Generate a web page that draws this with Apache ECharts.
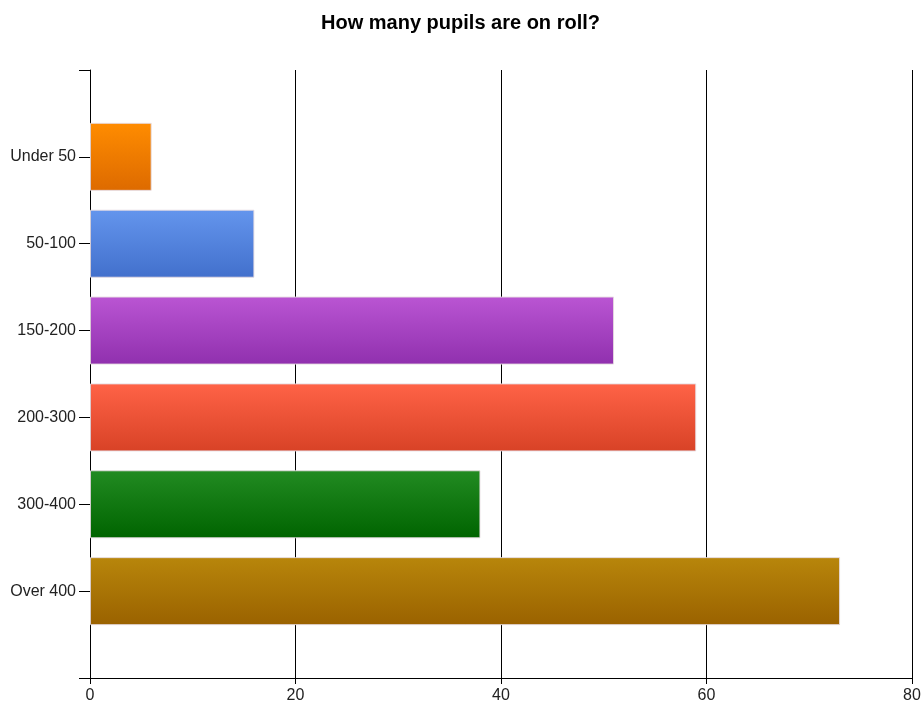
<!DOCTYPE html>
<html>
<head>
<meta charset="utf-8">
<script src="https://cdn.jsdelivr.net/npm/echarts@6/dist/echarts.min.js"></script>
<style>html,body{margin:0;padding:0;background:#fff}#c{width:921px;height:704px}</style>
</head>
<body>
<div id="c"></div>
<script>
var categories = ['', 'Under 50', '50-100', '150-200', '200-300', '300-400', 'Over 400', ''];
var values = [null, 6, 16, 51, 59, 38, 73, null];
var topColors = [null, '#FF8C00', '#6495ED', '#BA55D3', '#FF6347', '#228B22', '#B8860B', null];
var bottomColors = [null, '#DD6A00', '#4270CC', '#9030AE', '#D84226', '#006400', '#9A6200', null];
var xTicks = [0, 20, 40, 60, 80];

var chart = echarts.init(document.getElementById('c'), null, {renderer: 'canvas'});
var data = values.map(function (v, i) {
  if (v === null) return '-';
  return {
    value: v,
    itemStyle: {
      color: new echarts.graphic.LinearGradient(0, 0, 0, 1, [
        {offset: 0, color: topColors[i]},
        {offset: 1, color: bottomColors[i]}
      ]),
      borderColor: 'rgba(230,220,225,0.9)',
      borderWidth: 1
    }
  };
});
chart.setOption({
  animation: false,
  title: {
    text: 'How many pupils are on roll?',
    left: 'center',
    top: 8,
    textStyle: {fontFamily: 'Liberation Sans', fontSize: 20, fontWeight: 'bold', color: '#000'}
  },
  grid: {left: 90, right: 9, top: 70, bottom: 26, containLabel: false, outerBoundsMode: 'none'},
  xAxis: {
    type: 'value',
    min: xTicks[0],
    max: xTicks[xTicks.length - 1],
    interval: 20,
    axisLine: {show: true, lineStyle: {color: '#000', width: 1}},
    axisTick: {show: true, length: 6, lineStyle: {color: '#000'}},
    axisLabel: {color: '#222', fontFamily: 'Liberation Sans', fontSize: 16, margin: 10},
    splitLine: {show: true, lineStyle: {color: '#000', width: 1}}
  },
  yAxis: {
    type: 'category',
    data: categories,
    inverse: true,
    boundaryGap: false,
    axisLine: {show: true, lineStyle: {color: '#000', width: 1}},
    axisTick: {show: true, length: 11, lineStyle: {color: '#000'}, interval: 0},
    axisLabel: {color: '#222', fontFamily: 'Liberation Sans', fontSize: 16, margin: 14, interval: 0},
    splitLine: {show: false}
  },
  series: [{
    type: 'bar',
    data: data,
    barWidth: 68
  }]
});
</script>
</body>
</html>
